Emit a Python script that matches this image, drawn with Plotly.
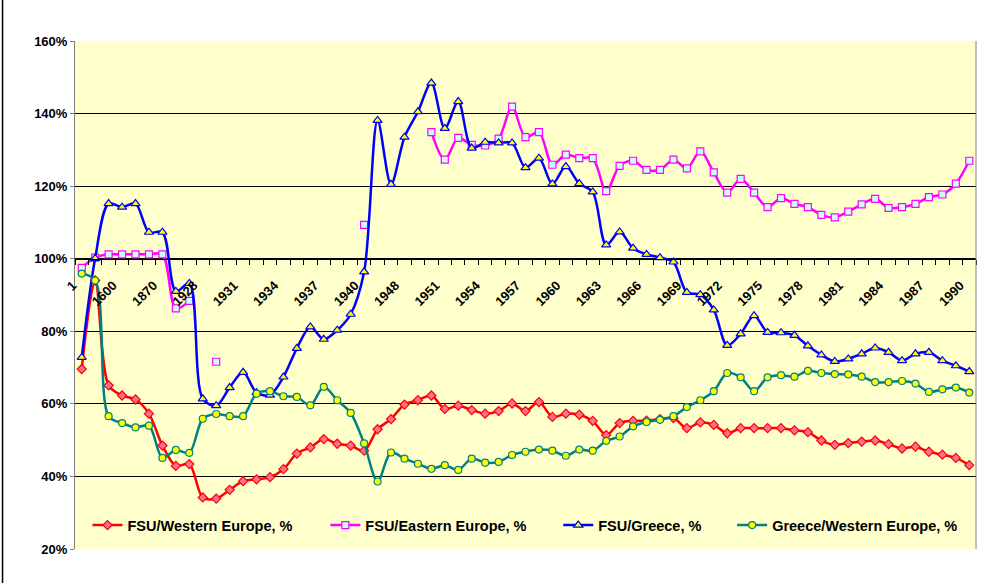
import plotly.graph_objects as go

# ---- data ----
years = ["1", "1000", "1500", "1600", "1700", "1820", "1870", "1900", "1913", "1928",
         "1929", "1930", "1931", "1932", "1933", "1934", "1935", "1936", "1937", "1938",
         "1939", "1940", "1945", "1946", "1948", "1949", "1950", "1951", "1952", "1953",
         "1954", "1955", "1956", "1957", "1958", "1959", "1960", "1961", "1962", "1963",
         "1964", "1965", "1966", "1967", "1968", "1969", "1970", "1971", "1972", "1973",
         "1974", "1975", "1976", "1977", "1978", "1979", "1980", "1981", "1982", "1983",
         "1984", "1985", "1986", "1987", "1988", "1989", "1990"]

fsu_western = [69.6, 94.0, 65.1, 62.3, 61.2, 57.3, 48.5, 42.9, 43.4, 34.2,
               33.9, 36.3, 38.7, 39.2, 39.8, 42.0, 46.3, 48.0, 50.3, 49.0,
               48.5, 47.1, 53.0, 55.8, 59.8, 61.0, 62.3, 58.6, 59.5, 58.3,
               57.3, 58.0, 60.1, 58.0, 60.5, 56.4, 57.3, 57.0, 55.3, 51.4,
               54.7, 55.3, 55.4, 55.8, 56.1, 53.3, 54.9, 54.2, 51.9, 53.3,
               53.3, 53.3, 53.3, 52.7, 52.2, 49.9, 48.7, 49.2, 49.6, 49.9,
               48.9, 47.7, 48.2, 46.8, 46.0, 45.1, 43.1]

fsu_eastern = [97.5, 100.3, 101.2, 101.2, 101.2, 101.2, 101.2, 86.3, 88.4, None,
               71.6, None, None, None, None, None, None, None, None, None,
               None, 109.3, None, None, None, None, 134.9, 127.3, 133.3, 131.4,
               131.2, 133.1, 141.9, 133.5, 134.9, 125.9, 128.7, 127.7, 127.7, 118.6,
               125.6, 127.0, 124.5, 124.5, 127.3, 124.9, 129.6, 123.8, 118.2, 122.0,
               118.2, 114.2, 116.7, 115.1, 114.2, 112.1, 111.4, 113.0, 115.0, 116.5,
               114.0, 114.2, 115.1, 117.0, 117.7, 120.7, 127.0]

fsu_greece = [72.8, 100.1, 115.2, 114.2, 115.2, 107.3, 107.3, 91.0, 93.2, 61.4,
              59.5, 64.5, 68.7, 63.1, 62.4, 67.4, 75.3, 81.2, 77.8, 80.3,
              84.7, 96.4, 138.1, 120.5, 133.5, 140.5, 148.4, 135.9, 143.3, 130.5,
              132.1, 131.9, 131.9, 125.1, 127.7, 120.6, 125.4, 120.7, 118.4, 103.8,
              107.4, 102.9, 101.2, 100.3, 99.1, 90.7, 90.1, 85.9, 76.1, 79.3,
              84.3, 79.7, 79.6, 78.9, 76.0, 73.5, 71.7, 72.4, 73.8, 75.4,
              74.2, 71.9, 73.8, 74.2, 71.9, 70.5, 68.9]

greece_western = [95.9, 94.0, 56.6, 54.7, 53.5, 54.0, 45.1, 47.3, 46.5, 55.9,
                  57.2, 56.6, 56.6, 62.8, 63.5, 62.1, 61.9, 59.6, 64.7, 61.0,
                  57.5, 49.1, 38.6, 46.6, 44.9, 43.5, 42.1, 43.1, 41.8, 44.9,
                  43.8, 44.0, 45.9, 46.8, 47.4, 47.1, 45.7, 47.4, 47.1, 49.8,
                  51.0, 53.8, 55.0, 55.6, 56.6, 59.1, 61.0, 63.5, 68.5, 67.3,
                  63.5, 67.3, 67.9, 67.5, 69.1, 68.5, 68.2, 68.1, 67.5, 66.0,
                  66.0, 66.3, 65.6, 63.3, 64.0, 64.5, 63.1]

series_names = ["FSU/Western Europe, %", "FSU/Eastern Europe, %",
                "FSU/Greece, %", "Greece/Western Europe, %"]

tick_labels = [y if i % 3 == 0 else "" for i, y in enumerate(years)]

FONT = "Liberation Sans, Arial, sans-serif"

fig = go.Figure()

styles = [
    dict(data=fsu_western, line="#FF0000", sym="diamond", fill="#FF6F8F", size=7, leg="legend"),
    dict(data=fsu_eastern, line="#FF00FF", sym="square", fill="#CCFFFF", size=7, leg="legend2"),
    dict(data=fsu_greece, line="#0000FF", sym="triangle-up", fill="#FFFF00", size=8, leg="legend3"),
    dict(data=greece_western, line="#008080", sym="circle", fill="#FFFF00", size=7, leg="legend4"),
]

for name, s in zip(series_names, styles):
    fig.add_trace(go.Scatter(
        x=years, y=s["data"], name=name, mode="lines+markers",
        line=dict(color=s["line"], width=2.5, shape="spline", smoothing=0.9),
        marker=dict(symbol=s["sym"], size=s["size"], color=s["fill"],
                    line=dict(color=s["line"], width=1.2)),
        connectgaps=False, legend=s["leg"],
    ))

def px_x(p):
    return (p - 74.5) / 901.5

leg_common = dict(orientation="h", yanchor="middle", y=0.047, xanchor="left",
                  bgcolor="rgba(0,0,0,0)", borderwidth=0,
                  font=dict(family=FONT, size=14.5, color="black", weight="bold"))

fig.update_layout(
    width=981, height=583,
    margin=dict(l=74.5, r=5, t=41, b=34),
    plot_bgcolor="#FFFFCC", paper_bgcolor="white",
    font=dict(family=FONT, color="black"),
    showlegend=True,
    legend=dict(x=px_x(87), **leg_common),
    legend2=dict(x=px_x(325), **leg_common),
    legend3=dict(x=px_x(558), **leg_common),
    legend4=dict(x=px_x(732), **leg_common),
    xaxis=dict(type="category", categoryorder="array", categoryarray=years,
               range=[-0.5, len(years) - 0.5],
               anchor="free", position=(100 - 20) / (160 - 20),
               showline=True, linecolor="black", linewidth=1,
               tickmode="array", tickvals=years, ticktext=tick_labels,
               tickson="boundaries", ticks="outside", ticklen=5, tickcolor="black",
               tickangle=-45, showgrid=False, zeroline=False,
               ticklabelstandoff=13, ticklabelshift=-9,
               tickfont=dict(family=FONT, size=13, color="black", weight="bold"),
               automargin=False),
    yaxis=dict(range=[20, 160], dtick=20, tick0=20, ticksuffix="%",
               showgrid=True, gridcolor="#000000", gridwidth=1,
               showline=True, linecolor="#808080", linewidth=1,
               ticks="outside", ticklen=4, tickcolor="#808080",
               zeroline=False,
               tickfont=dict(family=FONT, size=13, color="black", weight="bold"),
               automargin=False),
    shapes=[
        dict(type="line", xref="paper", yref="paper", x0=1, x1=1, y0=0, y1=1,
             line=dict(color="#808080", width=1)),
        dict(type="line", xref="paper", yref="paper", x0=px_x(2), x1=px_x(2),
             y0=-0.2, y1=1.2, line=dict(color="black", width=1.5)),
    ],
)

fig.write_html("out.html",
               config={"displayModeBar": False},
               post_script="document.body.style.margin='0px';document.body.style.padding='0px';")
